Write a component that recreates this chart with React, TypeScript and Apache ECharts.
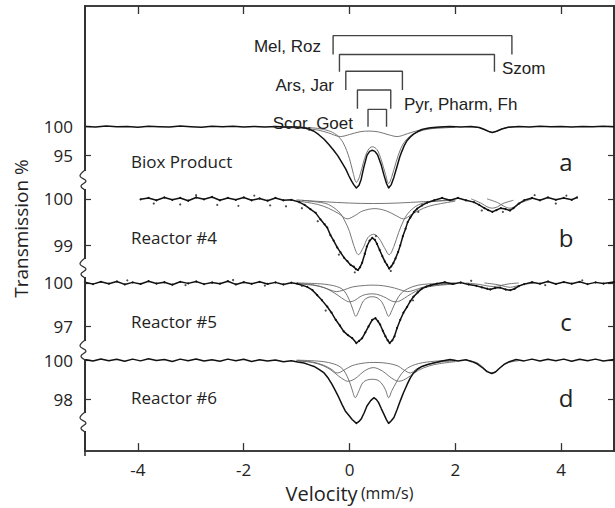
import React, { useEffect, useRef } from "react";
import * as echarts from "echarts";

// ---------- tick labels ----------
const xTicks = [-4, -2, 0, 2, 4];
const aTicks = [95, 100];
const bTicks = [99, 100];
const cTicks = [97, 100];
const dTicks = [98, 100];

// ---------- panel a : Biox Product ----------
const aData = [[-5,100.05],[-4.8,99.95],[-4.6,100.1],[-4.4,99.98],[-4.2,100.05],[-4,99.9],[-3.8,100.08],[-3.6,100.0],[-3.4,99.95],[-3.2,100.1],[-3,100.0],[-2.8,99.92],[-2.6,100.06],[-2.4,99.97],[-2.2,100.08],[-2,99.95],[-1.8,100.03],[-1.6,99.93],[-1.4,100.05],[-1.2,99.96],[-1.0,99.95],[-0.86,99.8],[-0.76,99.55],[-0.67,99.2],[-0.58,98.6],[-0.48,97.8],[-0.39,96.9],[-0.3,95.9],[-0.22,94.9],[-0.14,93.7],[-0.07,92.6],[-0.01,91.4],[0.04,90.5],[0.08,89.9],[0.13,89.3],[0.18,89.8],[0.22,90.8],[0.27,92.9],[0.33,95.0],[0.38,95.7],[0.43,95.9],[0.48,95.7],[0.53,95.1],[0.6,93.3],[0.65,91.6],[0.7,90.1],[0.74,89.3],[0.79,89.9],[0.84,91.2],[0.9,93.1],[0.95,94.7],[0.99,95.7],[1.04,96.8],[1.09,97.6],[1.15,98.2],[1.21,98.7],[1.29,99.15],[1.37,99.5],[1.45,99.7],[1.53,99.8],[1.7,99.95],[1.9,100.05],[2.1,99.95],[2.3,100.02],[2.45,99.85],[2.55,99.5],[2.65,99.1],[2.7,99.0],[2.78,99.2],[2.88,99.6],[3.0,99.9],[3.2,100.05],[3.4,99.95],[3.6,100.08],[3.8,99.97],[4.0,100.05],[4.2,99.93],[4.4,100.05],[4.6,99.98],[4.8,100.08],[5,99.98]];
const aMain = [[-1.2,100],[-0.8,99.85],[-0.6,99.7],[-0.4,99.3],[-0.25,98.6],[-0.12,97.2],[0,94.4],[0.07,91.9],[0.13,90.3],[0.19,91.3],[0.27,94.0],[0.35,95.9],[0.43,96.5],[0.52,96.0],[0.6,94.2],[0.68,91.7],[0.74,90.1],[0.8,91.3],[0.88,93.8],[0.97,96.2],[1.07,97.7],[1.2,98.7],[1.4,99.4],[1.6,99.75],[1.9,100]];
const aBroad = [[-1.3,99.88],[-1.0,99.78],[-0.8,99.65],[-0.6,99.42],[-0.4,98.92],[-0.17,98.28],[0,98.63],[0.2,99.12],[0.37,99.23],[0.55,99.08],[0.75,98.56],[0.9,98.28],[1.1,98.79],[1.3,99.34],[1.5,99.62],[1.8,99.8],[2.0,99.9]];
const aSmall = [[2.2,100],[2.45,99.85],[2.55,99.5],[2.65,99.1],[2.7,99.0],[2.78,99.2],[2.88,99.6],[3.0,99.9],[3.2,100]];

// ---------- panel b : Reactor #4 ----------
const bData = [[-3.95,99.99],[-3.8,100.02],[-3.65,99.97],[-3.5,100.03],[-3.35,99.98],[-3.2,100.02],[-3.05,99.96],[-2.9,100.03],[-2.75,99.99],[-2.6,100.04],[-2.45,99.97],[-2.3,100.02],[-2.15,99.98],[-2.0,100.03],[-1.85,99.97],[-1.7,100.01],[-1.55,99.96],[-1.4,100.02],[-1.25,99.97],[-1.1,99.98],[-0.95,99.93],[-0.85,99.87],[-0.74,99.78],[-0.64,99.7],[-0.55,99.56],[-0.47,99.45],[-0.42,99.38],[-0.36,99.22],[-0.3,99.1],[-0.23,98.95],[-0.17,98.85],[-0.1,98.73],[-0.04,98.66],[0.02,98.58],[0.08,98.54],[0.12,98.49],[0.16,98.47],[0.2,98.53],[0.24,98.63],[0.29,98.82],[0.33,98.98],[0.38,99.1],[0.43,99.16],[0.48,99.12],[0.52,99.03],[0.57,98.9],[0.62,98.77],[0.67,98.65],[0.71,98.58],[0.75,98.5],[0.79,98.55],[0.83,98.62],[0.87,98.72],[0.92,98.86],[0.96,99.0],[1.01,99.2],[1.06,99.36],[1.1,99.5],[1.15,99.6],[1.22,99.72],[1.28,99.79],[1.37,99.86],[1.47,99.92],[1.6,99.97],[1.75,100.02],[1.9,99.97],[2.05,100.02],[2.2,99.97],[2.35,99.93],[2.45,99.87],[2.55,99.8],[2.62,99.76],[2.7,99.72],[2.78,99.76],[2.86,99.8],[2.95,99.78],[3.03,99.75],[3.1,99.8],[3.2,99.9],[3.3,99.97],[3.45,100.02],[3.6,99.97],[3.75,100.03],[3.9,99.98],[4.05,100.02],[4.2,99.98],[4.3,100.03]];
const bDots = [[-3.7,99.9],[-3.2,99.88],[-2.9,100.08],[-2.5,99.87],[-2.1,99.85],[-1.8,100.07],[-1.5,99.86],[-1.2,99.84],[-0.9,99.8],[-0.6,99.52],[-0.2,98.8],[0.1,98.42],[0.78,98.45],[0.5,99.2],[1.3,99.72],[2.5,99.75],[2.9,99.72],[3.5,100.08],[3.9,99.9],[4.1,100.07]];
const bMain = [[-1.0,99.98],[-0.6,99.93],[-0.4,99.88],[-0.2,99.72],[-0.1,99.55],[0,99.3],[0.08,99.0],[0.17,98.8],[0.26,98.95],[0.35,99.17],[0.46,99.24],[0.56,99.15],[0.66,98.95],[0.75,98.8],[0.84,98.98],[0.93,99.28],[1.03,99.55],[1.13,99.72],[1.3,99.87],[1.5,99.93],[1.9,99.98]];
const bBroad = [[-1.0,99.96],[-0.6,99.88],[-0.4,99.8],[-0.2,99.68],[-0.04,99.57],[0.1,99.64],[0.25,99.74],[0.48,99.79],[0.7,99.74],[0.88,99.64],[1.02,99.57],[1.18,99.67],[1.4,99.8],[1.6,99.87],[2.0,99.95]];
const bWide = [[-0.9,99.97],[-0.5,99.94],[0,99.91],[0.45,99.9],[0.9,99.91],[1.4,99.94],[2.0,99.97]];
const bRight1 = [[2.3,100],[2.5,99.9],[2.6,99.83],[2.7,99.8],[2.8,99.83],[2.9,99.9],[3.1,99.97]];
const bRight2 = [[2.6,100],[2.8,99.92],[2.92,99.84],[3.03,99.8],[3.14,99.84],[3.25,99.92],[3.45,100]];

// ---------- panel c : Reactor #5 ----------
const cData = [[-5,100.05],[-4.85,99.92],[-4.7,100.08],[-4.55,99.95],[-4.4,100.1],[-4.25,99.9],[-4.1,100.04],[-3.95,99.93],[-3.8,100.12],[-3.65,99.96],[-3.5,100.05],[-3.35,99.88],[-3.2,100.08],[-3.05,99.97],[-2.9,100.1],[-2.75,99.92],[-2.6,100.03],[-2.45,99.95],[-2.3,100.12],[-2.15,99.9],[-2.0,100.05],[-1.85,99.94],[-1.7,100.08],[-1.55,99.93],[-1.4,100.04],[-1.25,99.9],[-1.1,100.02],[-0.99,99.95],[-0.8,99.73],[-0.7,99.5],[-0.61,99.16],[-0.52,98.8],[-0.42,98.36],[-0.34,97.95],[-0.26,97.46],[-0.18,97.05],[-0.11,96.66],[-0.03,96.4],[0.05,96.2],[0.13,95.86],[0.18,96.0],[0.24,96.2],[0.3,96.6],[0.36,97.0],[0.43,97.45],[0.49,97.57],[0.54,97.35],[0.58,97.12],[0.63,96.7],[0.68,96.32],[0.72,96.05],[0.76,95.86],[0.81,96.05],[0.85,96.32],[0.9,96.9],[0.96,97.46],[1.02,97.95],[1.09,98.36],[1.15,98.75],[1.21,99.05],[1.29,99.35],[1.37,99.61],[1.45,99.75],[1.53,99.84],[1.65,99.95],[1.8,100.05],[1.95,99.93],[2.1,100.03],[2.25,99.9],[2.4,99.8],[2.5,99.7],[2.6,99.6],[2.66,99.55],[2.75,99.65],[2.85,99.68],[2.95,99.55],[3.04,99.5],[3.12,99.6],[3.2,99.78],[3.3,99.92],[3.45,100.05],[3.6,99.95],[3.75,100.1],[3.9,99.93],[4.05,100.06],[4.2,99.95],[4.35,100.08],[4.5,99.92],[4.65,100.04],[4.8,99.96],[5,100.06]];
const cDots = [[-4.2,100.18],[-3.1,99.85],[-2.2,100.2],[-1.6,99.82],[-0.9,99.8],[-0.45,98.1],[1.2,98.8],[2.3,100.15],[3.7,99.85],[4.4,100.18]];
const cMain = [[-1.0,100],[-0.6,99.95],[-0.4,99.88],[-0.2,99.7],[-0.1,99.45],[0,98.8],[0.06,98.2],[0.12,97.7],[0.18,98.1],[0.26,98.75],[0.35,99.0],[0.43,99.05],[0.52,98.98],[0.61,98.7],[0.68,98.15],[0.74,97.7],[0.8,98.1],[0.88,98.75],[0.98,99.3],[1.1,99.6],[1.3,99.85],[1.6,99.95],[2.0,100]];
const cBroad = [[-1.0,99.95],[-0.7,99.85],[-0.5,99.7],[-0.35,99.45],[-0.2,99.1],[-0.1,98.85],[0,98.7],[0.1,98.8],[0.2,99.05],[0.3,99.2],[0.44,99.25],[0.58,99.15],[0.7,98.95],[0.8,98.75],[0.88,98.7],[0.98,98.82],[1.1,99.1],[1.25,99.42],[1.4,99.65],[1.6,99.8],[2.0,99.93]];
const cOuter = [[-1.0,99.96],[-0.7,99.88],[-0.5,99.7],[-0.35,99.5],[-0.25,99.4],[-0.12,99.5],[0.05,99.72],[0.3,99.83],[0.45,99.85],[0.65,99.8],[0.85,99.65],[1.0,99.48],[1.1,99.4],[1.22,99.5],[1.4,99.72],[1.6,99.85],[2.0,99.95]];
const cRight1 = [[2.2,100],[2.45,99.9],[2.6,99.8],[2.72,99.75],[2.85,99.82],[3.0,99.93],[3.2,100]];
const cRight2 = [[2.55,100],[2.8,99.88],[2.95,99.75],[3.04,99.7],[3.13,99.76],[3.3,99.9],[3.5,100]];

// ---------- panel d : Reactor #6 ----------
const dData = [[-5,100.03],[-4.85,99.95],[-4.7,100.06],[-4.55,99.97],[-4.4,100.04],[-4.25,99.94],[-4.1,100.05],[-3.95,99.96],[-3.8,100.07],[-3.65,99.98],[-3.5,100.03],[-3.35,99.93],[-3.2,100.05],[-3.05,99.97],[-2.9,100.06],[-2.75,99.95],[-2.6,100.02],[-2.45,99.94],[-2.3,100.05],[-2.15,99.97],[-2.0,100.04],[-1.85,99.93],[-1.7,100.02],[-1.55,99.95],[-1.4,100.01],[-1.25,99.92],[-1.1,99.97],[-0.98,99.9],[-0.86,99.85],[-0.76,99.76],[-0.67,99.68],[-0.57,99.52],[-0.48,99.35],[-0.4,99.08],[-0.33,98.77],[-0.26,98.42],[-0.2,98.1],[-0.14,97.75],[-0.08,97.43],[-0.01,97.2],[0.05,97.0],[0.13,96.8],[0.18,96.9],[0.22,97.02],[0.28,97.35],[0.33,97.68],[0.4,97.95],[0.46,98.1],[0.51,98.0],[0.55,97.85],[0.6,97.55],[0.65,97.27],[0.7,96.98],[0.74,96.8],[0.79,96.93],[0.84,97.1],[0.9,97.5],[0.96,97.94],[1.02,98.35],[1.09,98.77],[1.15,99.1],[1.21,99.35],[1.29,99.55],[1.37,99.68],[1.48,99.78],[1.59,99.85],[1.75,99.95],[1.9,100.03],[2.05,99.95],[2.2,100.02],[2.32,99.92],[2.42,99.8],[2.52,99.6],[2.6,99.42],[2.69,99.32],[2.76,99.4],[2.84,99.6],[2.92,99.78],[3.02,99.92],[3.15,100.03],[3.3,99.96],[3.45,100.05],[3.6,99.95],[3.75,100.04],[3.9,99.97],[4.05,100.05],[4.2,99.94],[4.35,100.04],[4.5,99.97],[4.65,100.05],[4.8,99.95],[5,100.03]];
const dMain = [[-1.0,100],[-0.6,99.95],[-0.4,99.88],[-0.2,99.7],[-0.1,99.45],[0,98.9],[0.05,98.5],[0.11,98.1],[0.17,98.4],[0.25,98.85],[0.34,99.0],[0.43,99.03],[0.52,99.0],[0.6,98.85],[0.68,98.5],[0.74,98.1],[0.8,98.45],[0.88,98.85],[0.98,99.3],[1.1,99.6],[1.3,99.82],[1.6,99.94],[2.0,100]];
const dBroad = [[-1.0,99.97],[-0.7,99.88],[-0.5,99.72],[-0.35,99.5],[-0.2,99.18],[-0.1,99.0],[-0.04,98.93],[0.05,98.98],[0.15,99.15],[0.28,99.45],[0.45,99.62],[0.62,99.45],[0.75,99.18],[0.85,99.0],[0.93,98.93],[1.02,98.99],[1.15,99.2],[1.3,99.48],[1.5,99.7],[1.7,99.82],[2.0,99.92]];
const dOuter = [[-1.0,99.97],[-0.7,99.9],[-0.5,99.75],[-0.35,99.55],[-0.23,99.35],[-0.1,99.5],[0.05,99.72],[0.3,99.86],[0.46,99.88],[0.65,99.86],[0.9,99.72],[1.03,99.5],[1.15,99.35],[1.27,99.55],[1.45,99.76],[1.7,99.9],[2.0,99.96]];
const dRight = [[2.2,100],[2.4,99.88],[2.52,99.65],[2.6,99.45],[2.69,99.35],[2.78,99.45],[2.88,99.68],[3.0,99.87],[3.2,99.97]];

// ---------- top assignment brackets (velocity ends) ----------
const bracketNames = ["Mel, Roz", "Szom", "Ars, Jar", "Pyr, Pharm, Fh", "Scor, Goet"];
const bracketLeft = [-0.31, -0.19, -0.07, 0.15, 0.35];
const bracketRight = [3.07, 2.74, 1.0, 0.78, 0.7];

// ---------- layout (pixels) ----------
const W = 615, H = 508;
const GT = 6, GB = 456, GL = 85, GR = 614;
const panels = [
  { y100: 128, yLow: 157, low: 95, ticks: aTicks },
  { y100: 201, yLow: 248, low: 99, ticks: bTicks },
  { y100: 286, yLow: 330, low: 97, ticks: cTicks },
  { y100: 364, yLow: 404, low: 98, ticks: dTicks },
];
const bracketTop = [30, 49, 66, 85, 104.5];
const bracketLegL = [49, 66.5, 85, 104, 122];
const bracketLegR = [49, 66.5, 85, 104, 122];
const bracketLabelPos = [
  { x: 321, y: 46, align: "right" },
  { x: 502, y: 68, align: "left" },
  { x: 334, y: 85, align: "right" },
  { x: 404, y: 104, align: "left" },
  { x: 353, y: 123, align: "right" },
];
const breaksY = [180, 268, 350, 422];

const FONT = '"Open Sans", "Noto Sans", sans-serif';

function panelRange(p: any) {
  const k = (p.yLow - p.y100) / (100 - p.low);
  return { min: 100 - (GB - p.y100) / k, max: 100 + (p.y100 - GT) / k };
}

export default function App() {
  const ref = useRef<HTMLDivElement>(null);
  useEffect(() => {
    if (!ref.current) return;
    const chart = echarts.init(ref.current, null, { renderer: "svg" });
    const axisColor = "#333";
    const yAxes: any[] = [];
    panels.forEach((p, i) => {
      const r = panelRange(p);
      yAxes.push({
        type: "value", position: "left", min: r.min, max: r.max,
        axisLine: { show: true, onZero: false, lineStyle: { color: axisColor, width: 1.5 } },
        axisTick: { show: true, inside: true, length: 6, customValues: p.ticks, lineStyle: { color: axisColor, width: 1.2 } },
        axisLabel: { show: true, customValues: p.ticks, margin: 12, fontSize: 17, color: "#222", fontFamily: FONT },
        splitLine: { show: false },
        name: i === 0 ? "Transmission %" : "",
        nameLocation: "middle", nameGap: 55,
        nameTextStyle: { fontSize: 19, color: "#222", fontFamily: FONT },
      });
    });
    panels.forEach((p, i) => {
      const r = panelRange(p);
      yAxes.push({
        type: "value", position: "right", min: r.min, max: r.max,
        axisLine: { show: true, onZero: false, lineStyle: { color: axisColor, width: 1.5 } },
        axisTick: { show: true, inside: true, length: 6, customValues: p.ticks, lineStyle: { color: axisColor, width: 1.2 } },
        axisLabel: { show: false },
        splitLine: { show: false },
      });
    });
    yAxes.push({ type: "value", min: 0, max: GB - GT, inverse: true, show: false });
    const ANN = yAxes.length - 1;

    const comp = (data: any, y: number) => ({
      type: "line", data, xAxisIndex: 0, yAxisIndex: y, smooth: 0.35, showSymbol: false,
      lineStyle: { color: "#666", width: 0.9 }, z: 2, silent: true,
    });
    const dataLine = (data: any, y: number, dots: boolean) => ({
      type: "line", data, xAxisIndex: 0, yAxisIndex: y, smooth: false, showSymbol: dots,
      symbol: "circle", symbolSize: 2, itemStyle: { color: "#111" },
      lineStyle: { color: "#111", width: 1.5, join: "round" }, z: 3, silent: true,
    });
    const dots = (data: any, y: number) => ({
      type: "scatter", data, xAxisIndex: 0, yAxisIndex: y, symbolSize: 2.2,
      itemStyle: { color: "#222" }, z: 3, silent: true,
    });

    const series: any[] = [
      comp(aMain, 0), comp(aBroad, 0), comp(aSmall, 0), dataLine(aData, 0, false),
      comp(bMain, 1), comp(bBroad, 1), comp(bWide, 1), comp(bRight1, 1), comp(bRight2, 1), dataLine(bData, 1, true), dots(bDots, 1),
      comp(cMain, 2), comp(cBroad, 2), comp(cOuter, 2), comp(cRight1, 2), comp(cRight2, 2), dataLine(cData, 2, true), dots(cDots, 2),
      comp(dMain, 3), comp(dBroad, 3), comp(dOuter, 3), comp(dRight, 3), dataLine(dData, 3, false),
    ];
    bracketNames.forEach((n, i) => {
      series.push({
        type: "line", name: n, xAxisIndex: 0, yAxisIndex: ANN, showSymbol: false, silent: true,
        lineStyle: { color: "#444", width: 1.4 },
        data: [[bracketLeft[i], bracketLegL[i]], [bracketLeft[i], bracketTop[i]], [bracketRight[i], bracketTop[i]], [bracketRight[i], bracketLegR[i]]],
      });
    });

    const graphics: any[] = [
      { type: "line", shape: { x1: GL, y1: GT, x2: GL, y2: GB }, style: { stroke: axisColor, lineWidth: 1.6 }, z: 90 },
    ];
    breaksY.forEach((y) => {
      graphics.push({ type: "rect", shape: { x: GL - 2, y: y - 9, width: 4, height: 18 }, style: { fill: "#fff" }, z: 100 });
      graphics.push({
        type: "polyline", shape: { points: [[GL, y - 10], [GL - 5, y - 4], [GL + 1, y + 1], [GL - 4, y + 6], [GL, y + 10]], smooth: 0.4 },
        style: { stroke: axisColor, lineWidth: 1.3, fill: "none" }, z: 101,
      });
    });
    bracketNames.forEach((n, i) => {
      const pos = bracketLabelPos[i];
      graphics.push({ type: "text", x: pos.x, y: pos.y, style: { text: n, fill: "#222", fontSize: 17, fontFamily: '"Liberation Sans", Arial, sans-serif', align: pos.align, verticalAlign: "middle" }, z: 50 });
    });
    const panelNames = ["Biox Product", "Reactor #4", "Reactor #5", "Reactor #6"];
    const panelLetters = ["a", "b", "c", "d"];
    const nameY = [161, 237, 321, 397];
    panelNames.forEach((n, i) => {
      graphics.push({ type: "text", x: 131, y: nameY[i], style: { text: n, fill: "#222", fontSize: 17, fontFamily: FONT, align: "left", verticalAlign: "middle" }, z: 50 });
      graphics.push({ type: "text", x: 566, y: nameY[i], style: { text: panelLetters[i], fill: "#222", fontSize: 24, fontFamily: FONT, align: "center", verticalAlign: "middle" }, z: 50 });
    });

    chart.setOption({
      animation: false,
      backgroundColor: "#fff",
      grid: { left: GL, right: W - GR, top: GT, bottom: H - GB, containLabel: false, show: true, borderColor: axisColor, borderWidth: 1.5, backgroundColor: "transparent" },
      xAxis: [
        {
          type: "value", position: "bottom", min: -5, max: 5,
          axisLine: { onZero: false, lineStyle: { color: axisColor, width: 1.5 } },
          axisTick: { inside: true, length: 8, customValues: xTicks, lineStyle: { color: axisColor, width: 1.3 } },
          axisLabel: { customValues: xTicks, margin: 10, fontSize: 17, color: "#222", fontFamily: FONT },
          splitLine: { show: false },
          name: "{a|Velocity} {b|(mm/s)}", nameLocation: "middle", nameGap: 31,
          nameTextStyle: { rich: { a: { fontSize: 20, color: "#222", fontFamily: FONT }, b: { fontSize: 16, color: "#222", fontFamily: FONT } } },
        },
        {
          type: "value", position: "top", min: -5, max: 5,
          axisLine: { onZero: false, lineStyle: { color: axisColor, width: 1.5 } },
          axisTick: { inside: true, length: 8, customValues: xTicks, lineStyle: { color: axisColor, width: 1.3 } },
          axisLabel: { show: false },
          splitLine: { show: false },
        },
      ],
      yAxis: yAxes,
      series,
      graphic: graphics,
    });
    return () => chart.dispose();
  }, []);
  return <div ref={ref} style={{ position: "fixed", left: 0, top: 0, width: W, height: H }} />;
}
